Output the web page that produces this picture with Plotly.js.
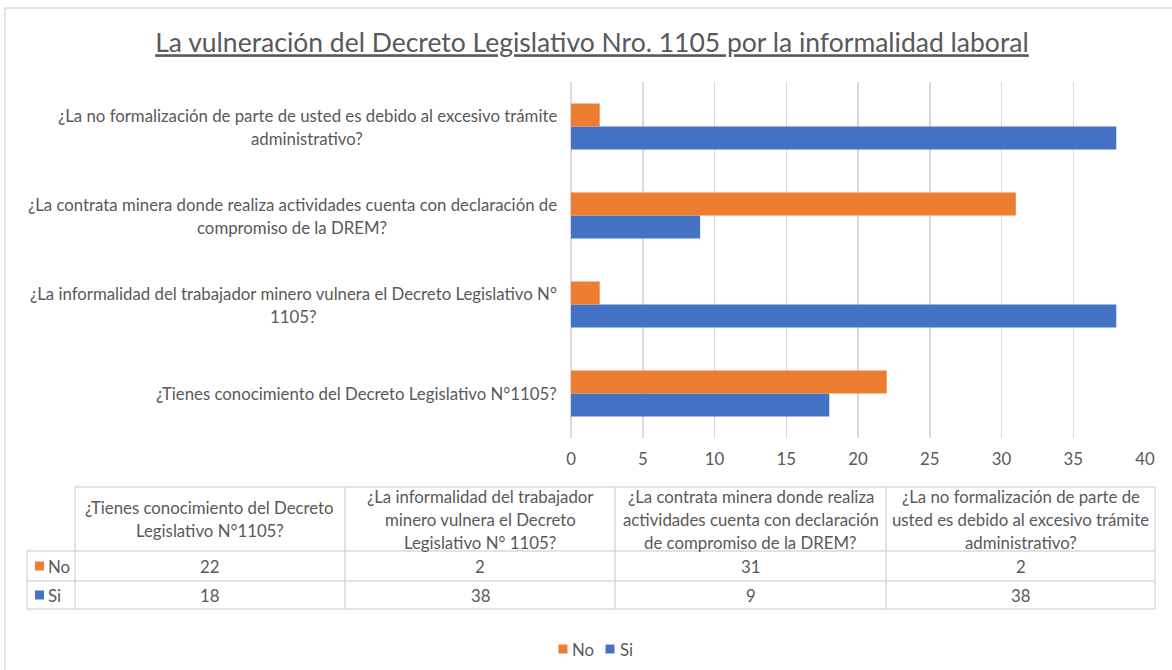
<!DOCTYPE html>
<html>
<head>
<meta charset="utf-8">
<script src="https://cdn.plot.ly/plotly-3.0.1.min.js"></script>
<style>
  html, body { margin: 0; padding: 0; background: #ffffff; }
  #chart { width: 1172px; height: 670px; }
</style>
</head>
<body>
<div id="chart"></div>
<script>
// ---------------- DATA ----------------
const chartTitle = "La vulneración del Decreto Legislativo Nro. 1105 por la informalidad laboral";
const categories = [
  "¿Tienes conocimiento del Decreto Legislativo N°1105?",
  "¿La informalidad del trabajador minero vulnera el Decreto Legislativo N° 1105?",
  "¿La contrata minera donde realiza actividades cuenta con declaración de compromiso de la DREM?",
  "¿La no formalización de parte de usted es debido al excesivo trámite administrativo?"
];
const seriesNames = ["No", "Si"];
const noValues = [22, 2, 31, 2];
const siValues = [18, 38, 9, 38];
const seriesColors = ["#ED7D31", "#4472C4"];
const xTickValues = [0, 5, 10, 15, 20, 25, 30, 35, 40];

// ---------------- LAYOUT HELPERS ----------------
const W = 1172, H = 670;
const PL = 571, PR = 1145, PT = 82, PB = 438;
const FONT = "Lato, 'Open Sans', sans-serif";
const TXT = "#595959";
const GRID = "#d9d9d9";
const FS = 16.8;
const px = p => (p - PL) / (PR - PL);
const py = p => (PB - p) / (PB - PT);

const canvas = document.createElement("canvas");
const ctx = canvas.getContext("2d");
function textWidth(t, size) { ctx.font = size + "px Lato"; return ctx.measureText(t).width; }

function wrap(text, maxChars) {
  const words = text.split(" ");
  const lines = [];
  let cur = "";
  words.forEach(w => {
    if (cur && (cur + " " + w).length > maxChars) { lines.push(cur); cur = w; }
    else { cur = cur ? cur + " " + w : w; }
  });
  if (cur) lines.push(cur);
  return lines;
}

const seriesValues = { "No": noValues, "Si": siValues };
const colorOf = { "No": seriesColors[0], "Si": seriesColors[1] };

// traces: Si first so that it sits below No in each group
const traces = ["Si", "No"].map(name => ({
  type: "bar",
  orientation: "h",
  name: name,
  y: categories,
  x: seriesValues[name],
  marker: { color: colorOf[name], line: { width: 0 } },
  hoverinfo: "x+name",
  showlegend: false
}));

const annotations = [];
const shapes = [];
const LS = 23; // line spacing in px

// y-axis category labels (centered multi-line, right edge near the plot)
const labelRight = 557;
categories.forEach(cat => {
  const lines = wrap(cat, 72);
  const maxW = Math.max(...lines.map(l => textWidth(l, FS)));
  const cx = labelRight - maxW / 2;
  lines.forEach((ln, j) => {
    annotations.push({
      text: ln, xref: "paper", yref: "y", x: px(cx), y: cat,
      xanchor: "center", yanchor: "middle",
      yshift: ((lines.length - 1) / 2 - j) * LS,
      showarrow: false, font: { family: FONT, size: FS, color: TXT }
    });
  });
});

// data table
const colEdges = [75, 345, 615, 886, 1155];
const headTop = 487, headBot = 551, rowEdges = [551, 581, 609];
const labelLeft = 27;
const line = (x0, y0, x1, y1) => shapes.push({
  type: "line", xref: "paper", yref: "paper",
  x0: px(x0), y0: py(y0), x1: px(x1), y1: py(y1),
  line: { color: GRID, width: 1.5 }
});
// horizontal lines
line(colEdges[0], headTop, colEdges[4], headTop);
line(labelLeft, rowEdges[0], colEdges[4], rowEdges[0]);
line(labelLeft, rowEdges[1], colEdges[4], rowEdges[1]);
line(labelLeft, rowEdges[2], colEdges[4], rowEdges[2]);
// vertical lines
line(labelLeft, rowEdges[0], labelLeft, rowEdges[2]);
colEdges.forEach(x => line(x, headTop, x, rowEdges[2]));

// header texts
categories.forEach((cat, i) => {
  const lines = wrap(cat, 35);
  const cx = (colEdges[i] + colEdges[i + 1]) / 2;
  const cy = (headTop + headBot) / 2;
  lines.forEach((ln, j) => {
    const yy = cy + (j - (lines.length - 1) / 2) * LS;
    annotations.push({
      text: ln, xref: "paper", yref: "paper", x: px(cx), y: py(yy),
      xanchor: "center", yanchor: "middle", showarrow: false,
      font: { family: FONT, size: FS, color: TXT }
    });
  });
});

// value rows
seriesNames.forEach((name, r) => {
  const cy = (rowEdges[r] + rowEdges[r + 1]) / 2;
  // legend key
  shapes.push({
    type: "rect", xref: "paper", yref: "paper",
    x0: px(35), x1: px(44), y0: py(cy - 4.5), y1: py(cy + 4.5),
    fillcolor: colorOf[name], line: { width: 0 }
  });
  annotations.push({
    text: name, xref: "paper", yref: "paper", x: px(46), y: py(cy),
    xanchor: "left", yanchor: "middle", showarrow: false,
    font: { family: FONT, size: FS, color: TXT }
  });
  seriesValues[name].forEach((v, i) => {
    const cx = (colEdges[i] + colEdges[i + 1]) / 2;
    annotations.push({
      text: String(v), xref: "paper", yref: "paper", x: px(cx), y: py(cy),
      xanchor: "center", yanchor: "middle", showarrow: false,
      font: { family: FONT, size: FS, color: TXT }
    });
  });
});

// custom legend
const legCenter = 595, legY = 649, sq = 9, sqGap = 4, itemGap = 12;
const itemWidths = seriesNames.map(n => sq + sqGap + textWidth(n, FS));
const legTotal = itemWidths.reduce((a, b) => a + b, 0) + itemGap * (seriesNames.length - 1);
let lx = legCenter - legTotal / 2;
seriesNames.forEach((name, k) => {
  shapes.push({
    type: "rect", xref: "paper", yref: "paper",
    x0: px(lx), x1: px(lx + sq), y0: py(legY - sq / 2), y1: py(legY + sq / 2),
    fillcolor: colorOf[name], line: { width: 0 }
  });
  annotations.push({
    text: name, xref: "paper", yref: "paper", x: px(lx + sq + sqGap - 1), y: py(legY),
    xanchor: "left", yanchor: "middle", showarrow: false,
    font: { family: FONT, size: FS, color: TXT }
  });
  lx += itemWidths[k] + itemGap;
});

// outer chart border
shapes.push({
  type: "rect", xref: "paper", yref: "paper", layer: "below",
  x0: px(5), x1: px(1185), y0: py(8), y1: py(690),
  line: { color: GRID, width: 1.5 }, fillcolor: "rgba(0,0,0,0)"
});

const layout = {
  width: W, height: H,
  margin: { l: PL, r: W - PR, t: PT, b: H - PB, pad: 0 },
  paper_bgcolor: "#ffffff", plot_bgcolor: "#ffffff",
  title: {
    text: "<u>" + chartTitle + "</u>",
    font: { family: FONT, size: 26.5, color: TXT },
    xref: "container", yref: "container",
    x: 592 / W, y: 1 - 43 / H, xanchor: "center", yanchor: "middle"
  },
  barmode: "group", bargap: 0.483, bargroupgap: 0,
  xaxis: {
    range: [0, 40], tickvals: xTickValues, ticktext: xTickValues.map(String),
    showgrid: true, gridcolor: GRID, gridwidth: 1.5,
    zeroline: true, zerolinecolor: GRID, zerolinewidth: 1.5,
    showline: false, ticks: "", ticklabelstandoff: 9,
    tickfont: { family: FONT, size: FS, color: TXT }, fixedrange: true
  },
  yaxis: {
    type: "category", showticklabels: false, showgrid: false, zeroline: false,
    showline: false, ticks: "", fixedrange: true
  },
  showlegend: false,
  annotations: annotations,
  shapes: shapes,
  font: { family: FONT, color: TXT }
};

Plotly.newPlot("chart", traces, layout, { displayModeBar: false, staticPlot: true });
</script>
</body>
</html>
